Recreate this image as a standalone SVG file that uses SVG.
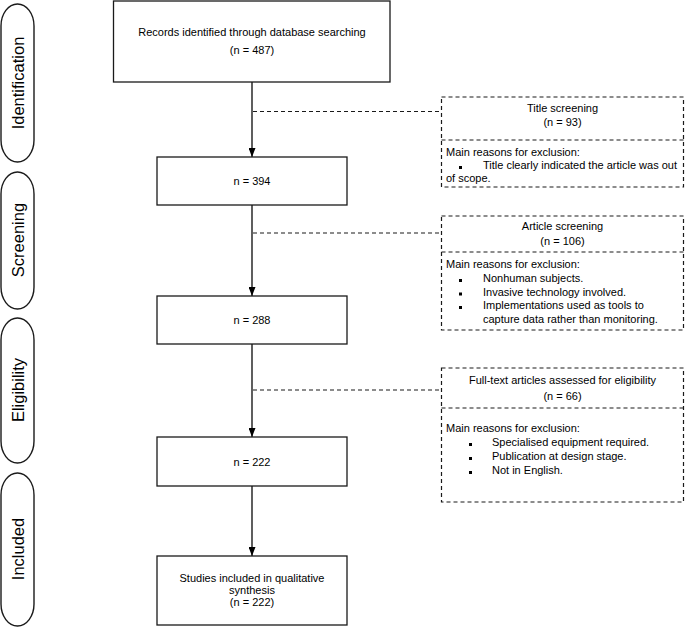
<svg xmlns="http://www.w3.org/2000/svg" width="685" height="627" viewBox="0 0 685 627">
<defs>
<style>
text{font-family:"Liberation Sans",Arial,Helvetica,sans-serif;font-size:11px;fill:#000}
.c{text-anchor:middle}
.side{font-size:16.5px;text-anchor:middle}
.box{fill:#fff;stroke:#1a1a1a;stroke-width:1.3}
.pill{fill:#fff;stroke:#1a1a1a;stroke-width:1.4}
.dbox{fill:#fff;stroke:#1a1a1a;stroke-width:1.2;stroke-dasharray:4 3}
.dl{fill:none;stroke:#1a1a1a;stroke-width:1.2;stroke-dasharray:4 3}
.arr{fill:none;stroke:#1a1a1a;stroke-width:1.4}
.b{fill:#000}
</style>
<marker id="ah" viewBox="0 0 9 7" markerWidth="9" markerHeight="7" refX="9" refY="3.5" orient="auto" markerUnits="userSpaceOnUse">
<path d="M0,0 L9,3.5 L0,7 z" fill="#000"/>
</marker>
</defs>
<rect width="685" height="627" fill="#fff"/>

<g id="stage-identification">
<rect class="pill" x="1" y="4" width="33" height="158" rx="16.5" ry="22"/>
<text class="side" transform="translate(23.5,83) rotate(-90)">Identification</text>
</g>
<g id="stage-screening">
<rect class="pill" x="1" y="172" width="33" height="137" rx="16.5" ry="22"/>
<text class="side" transform="translate(23.5,240) rotate(-90)">Screening</text>
</g>
<g id="stage-eligibility">
<rect class="pill" x="1" y="318" width="33" height="145" rx="16.5" ry="22"/>
<text class="side" transform="translate(23.5,390) rotate(-90)">Eligibility</text>
</g>
<g id="stage-included">
<rect class="pill" x="1" y="473" width="33" height="153" rx="16.5" ry="22"/>
<text class="side" transform="translate(23.5,549) rotate(-90)">Included</text>
</g>

<g id="connectors">
<line class="arr" x1="252" y1="82" x2="252" y2="157" marker-end="url(#ah)"/>
<line class="arr" x1="252" y1="205" x2="252" y2="296" marker-end="url(#ah)"/>
<line class="arr" x1="252" y1="344" x2="252" y2="437" marker-end="url(#ah)"/>
<line class="arr" x1="252" y1="486" x2="252" y2="556" marker-end="url(#ah)"/>
<line class="dl" x1="253" y1="111.5" x2="441" y2="111.5"/>
<line class="dl" x1="253" y1="233" x2="441" y2="233"/>
<line class="dl" x1="253" y1="390" x2="441" y2="390"/>
</g>

<g id="records">
<rect class="box" x="113.5" y="1" width="276.5" height="81"/>
<text class="c" x="252" y="36">Records identified through database searching</text>
<text class="c" x="252" y="54">(n = 487)</text>
</g>
<g id="n394">
<rect class="box" x="157" y="157" width="190" height="48"/>
<text class="c" x="252" y="185">n = 394</text>
</g>
<g id="n288">
<rect class="box" x="157" y="296" width="190" height="48"/>
<text class="c" x="252" y="324">n = 288</text>
</g>
<g id="n222">
<rect class="box" x="157" y="437" width="190" height="49"/>
<text class="c" x="252" y="466">n = 222</text>
</g>
<g id="included">
<rect class="box" x="157" y="556" width="190" height="69"/>
<text class="c" x="252" y="582">Studies included in qualitative</text>
<text class="c" x="252" y="594">synthesis</text>
<text class="c" x="252" y="606">(n = 222)</text>
</g>

<g id="title-screening">
<rect class="dbox" x="441.5" y="97" width="242" height="90"/>
<line class="dl" x1="441.5" y1="140" x2="683.5" y2="140"/>
<text class="c" x="562.5" y="112">Title screening</text>
<text class="c" x="562.5" y="126">(n = 93)</text>
<text x="446" y="156">Main reasons for exclusion:</text>
<rect class="b" x="459" y="166" width="3" height="3"/>
<text x="483" y="169">Title clearly indicated the article was out</text>
<text x="446" y="182">of scope.</text>
</g>

<g id="article-screening">
<rect class="dbox" x="441.5" y="216" width="242" height="114"/>
<line class="dl" x1="441.5" y1="252" x2="683.5" y2="252"/>
<text class="c" x="562.5" y="230">Article screening</text>
<text class="c" x="562.5" y="245">(n = 106)</text>
<text x="446" y="268">Main reasons for exclusion:</text>
<rect class="b" x="459" y="279" width="3" height="3"/>
<text x="483" y="282">Nonhuman subjects.</text>
<rect class="b" x="459" y="292.5" width="3" height="3"/>
<text x="483" y="295.5">Invasive technology involved.</text>
<rect class="b" x="459" y="306" width="3" height="3"/>
<text x="483" y="309">Implementations used as tools to</text>
<text x="483" y="322.5">capture data rather than monitoring.</text>
</g>

<g id="fulltext">
<rect class="dbox" x="441.5" y="368" width="242" height="134"/>
<line class="dl" x1="441.5" y1="408" x2="683.5" y2="408"/>
<text class="c" x="562.5" y="384">Full-text articles assessed for eligibility</text>
<text class="c" x="562.5" y="400">(n = 66)</text>
<text x="446" y="432">Main reasons for exclusion:</text>
<rect class="b" x="469" y="443" width="3" height="3"/>
<text x="492" y="446">Specialised equipment required.</text>
<rect class="b" x="469" y="457" width="3" height="3"/>
<text x="492" y="460">Publication at design stage.</text>
<rect class="b" x="469" y="471" width="3" height="3"/>
<text x="492" y="474">Not in English.</text>
</g>
</svg>
